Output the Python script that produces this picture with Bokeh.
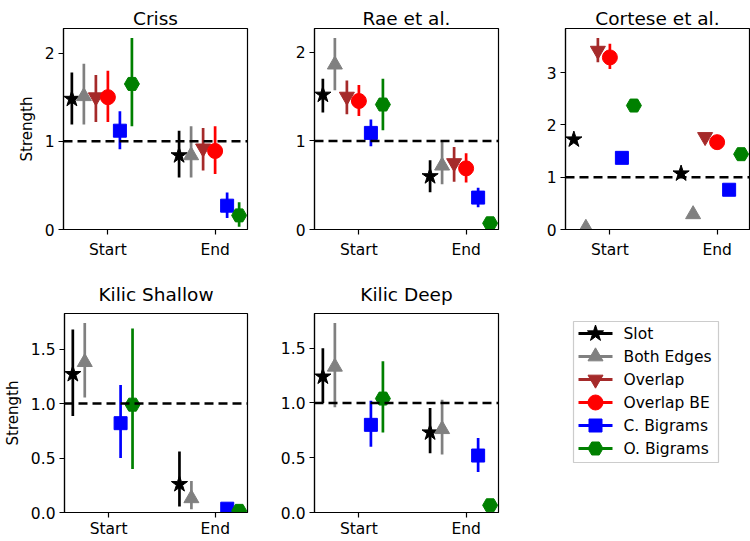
import math

from bokeh.plotting import figure
from bokeh.layouts import row, column
from bokeh.models import (Range1d, FixedTicker, Span, PrintfTickFormatter,
                          BasicTickFormatter)
from bokeh.core.properties import value
from bokeh.embed import file_html
from bokeh.resources import INLINE

nan = float("nan")

# categories and series
positions = ["Start", "End"]
series = ["Slot", "Both Edges", "Overlap", "Overlap BE", "C. Bigrams", "O. Bigrams"]
colors = ["black", "gray", "brown", "red", "blue", "green"]
markers = ["star", "triangle", "inverted_triangle", "circle", "square", "hex"]
sizes = [17, 15, 15, 15, 13, 15]

# values: [Start values, End values], one per series
criss_mean = [[1.48, 1.51, 1.50, 1.50, 1.12, 1.65], [0.84, 0.84, 0.92, 0.89, 0.27, 0.16]]
criss_lo = [[1.19, 1.19, 1.22, 1.22, 0.91, 1.17], [0.59, 0.59, 0.67, 0.63, 0.13, 0.03]]
criss_hi = [[1.78, 1.88, 1.75, 1.80, 1.34, 2.17], [1.12, 1.17, 1.15, 1.17, 0.42, 0.31]]

rae_mean = [[1.52, 1.86, 1.50, 1.45, 1.09, 1.41], [0.60, 0.72, 0.75, 0.69, 0.36, 0.07]]
rae_lo = [[1.32, 1.57, 1.30, 1.28, 0.94, 1.12], [0.42, 0.51, 0.54, 0.53, 0.25, 0.05]]
rae_hi = [[1.70, 2.16, 1.68, 1.63, 1.24, 1.70], [0.78, 0.99, 0.93, 0.86, 0.47, 0.09]]

cortese_mean = [[1.72, 0.03, 3.42, 3.29, 1.37, 2.37], [1.07, 0.29, 1.77, 1.67, 0.76, 1.44]]
cortese_lo = [[1.72, 0.03, 3.20, 3.07, 1.37, 2.37], [1.07, 0.29, 1.77, 1.67, 0.76, 1.44]]
cortese_hi = [[1.72, 0.03, 3.66, 3.55, 1.37, 2.37], [1.07, 0.29, 1.77, 1.67, 0.76, 1.44]]

kshallow_mean = [[1.27, 1.38, nan, nan, 0.82, 0.99], [0.26, 0.13, nan, nan, 0.035, 0.015]]
kshallow_lo = [[0.885, 1.055, nan, nan, 0.50, 0.40], [0.055, 0.03, nan, nan, 0.035, 0.015]]
kshallow_hi = [[1.68, 1.74, nan, nan, 1.17, 1.69], [0.56, 0.29, nan, nan, 0.035, 0.015]]

kdeep_mean = [[1.24, 1.33, nan, nan, 0.80, 1.04], [0.73, 0.76, nan, nan, 0.52, 0.066]]
kdeep_lo = [[1.00, 0.96, nan, nan, 0.60, 0.73], [0.54, 0.53, nan, nan, 0.37, 0.066]]
kdeep_hi = [[1.50, 1.73, nan, nan, 1.02, 1.38], [0.955, 1.03, nan, nan, 0.68, 0.066]]

FONT = "DejaVu Sans"
FRAME_W = 184
ROW1 = dict(top=28, bottom=41, height=270, title_gap=-5, title_align="top", label_gap=6)
ROW2 = dict(top=43, bottom=27, height=270, title_gap=18, title_align="bottom", label_gap=2)


def make_panel(title, mean, lo, hi, yticks, ylabel, rowcfg, left, right, decimals=False):
    vals = [v for grp in hi for v in grp if not math.isnan(v)]
    ytop = max(vals) * 1.05

    p = figure(width=left + FRAME_W + right, height=rowcfg["height"],
               x_range=Range1d(-0.414, 1.302), y_range=Range1d(0, ytop),
               output_backend="svg", toolbar_location=None,
               min_border_left=left, min_border_right=right,
               min_border_top=rowcfg["top"], min_border_bottom=rowcfg["bottom"])

    p.title.text = title
    p.title.align = "center"
    p.title.vertical_align = rowcfg["title_align"]
    p.title.text_font = FONT
    p.title.text_font_size = "18.5px"
    p.title.text_font_style = "normal"
    p.title.text_color = "black"
    p.title.standoff = rowcfg["title_gap"]

    # error bars first, markers on top
    for i in range(len(series)):
        xs = [k + (i - 3) * 0.112 for k in range(len(positions))]
        ms = [mean[k][i] for k in range(len(positions))]
        ls = [lo[k][i] for k in range(len(positions))]
        hs = [hi[k][i] for k in range(len(positions))]
        p.segment(x0=xs, y0=ls, x1=xs, y1=hs, line_color=colors[i], line_width=2.7)
        p.scatter(xs, ms, marker=markers[i], size=sizes[i], color=colors[i])

    p.add_layout(Span(location=1, dimension="width", line_color="black",
                      line_dash="9 5", line_width=2.5))

    p.xaxis.ticker = FixedTicker(ticks=[0, 1])
    p.xaxis.major_label_overrides = {0: positions[0], 1: positions[1]}
    p.yaxis.ticker = FixedTicker(ticks=yticks)
    if decimals:
        p.yaxis.formatter = PrintfTickFormatter(format="%.1f")
    else:
        p.yaxis.formatter = BasicTickFormatter()

    if ylabel:
        p.yaxis.axis_label = "Strength"
        p.yaxis.axis_label_text_font = FONT
        p.yaxis.axis_label_text_font_size = "15px"
        p.yaxis.axis_label_text_font_style = "normal"
        p.yaxis.axis_label_text_color = "black"
        p.yaxis.axis_label_standoff = 6

    p.axis.major_label_text_font = FONT
    p.axis.major_label_text_font_size = "15.5px"
    p.axis.major_label_text_color = "black"
    p.yaxis.major_label_standoff = 4
    p.xaxis.major_label_standoff = rowcfg["label_gap"]
    p.axis.major_tick_in = 0
    p.axis.major_tick_out = 5
    p.axis.major_tick_line_width = 1.2
    p.axis.major_tick_line_color = "black"
    p.axis.minor_tick_line_color = None
    p.axis.axis_line_color = "black"
    p.axis.axis_line_width = 1.2
    p.grid.visible = False
    p.outline_line_color = "black"
    p.outline_line_width = 1.2
    p.outline_line_alpha = 1.0
    return p


p1 = make_panel("Criss", criss_mean, criss_lo, criss_hi, [0, 1, 2], True, ROW1, 63, 12)
p2 = make_panel("Rae et al.", rae_mean, rae_lo, rae_hi, [0, 1, 2], False, ROW1, 55, 12)
p3 = make_panel("Cortese et al.", cortese_mean, cortese_lo, cortese_hi, [0, 1, 2, 3], False, ROW1, 55, 1)
p4 = make_panel("Kilic Shallow", kshallow_mean, kshallow_lo, kshallow_hi, [0, 0.5, 1, 1.5], True, ROW2, 63, 12, decimals=True)
p5 = make_panel("Kilic Deep", kdeep_mean, kdeep_lo, kdeep_hi, [0, 0.5, 1, 1.5], False, ROW2, 55, 12, decimals=True)

# legend cell: a blank figure whose units are pixels; its frame lines up
# with the frames of the other two panels in the row
LW, LH = 55 + FRAME_W + 1, 200
p6 = figure(frame_width=LW, frame_height=LH, x_range=Range1d(0, LW), y_range=Range1d(0, LH),
            output_backend="svg", toolbar_location=None, min_border=0,
            min_border_left=0, min_border_right=0, min_border_top=0, min_border_bottom=0,
            title_location=None, x_axis_location=None, y_axis_location=None)
p6.grid.visible = False
p6.outline_line_color = None

row_y = [180 - 23 * i for i in range(len(series))]
p6.quad(left=[63], right=[208], bottom=[51], top=[192], fill_color="white",
        line_color="#cccccc", line_width=1.2)
p6.segment(x0=[68] * len(series), y0=row_y, x1=[102] * len(series), y1=row_y,
           line_color=colors, line_width=3)
for i in range(len(series)):
    p6.scatter([85], [row_y[i]], marker=markers[i], size=sizes[i], color=colors[i])
p6.text(x=[113] * len(series), y=row_y, text=series, text_font=value(FONT),
        text_font_size="15.5px", text_baseline="middle", text_color="black")

layout = column(row(p1, p2, p3), row(p4, p5, p6))

open("out.html", "w").write(file_html(layout, INLINE))
